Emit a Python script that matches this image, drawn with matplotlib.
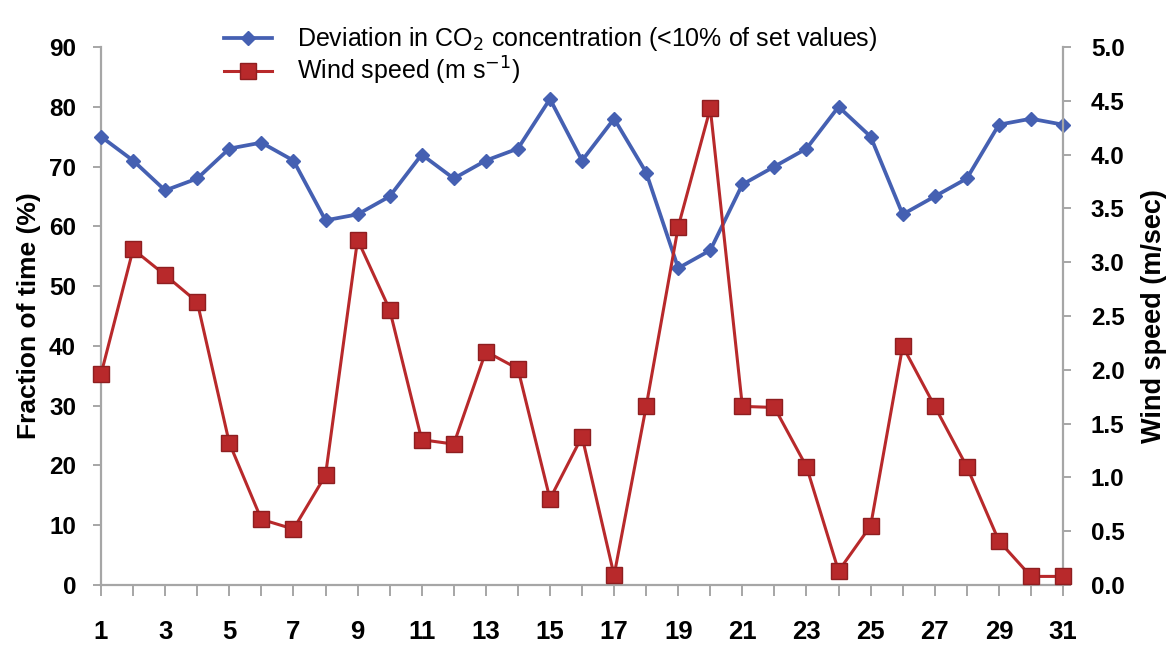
import matplotlib
matplotlib.use("Agg")
import matplotlib.pyplot as plt
from matplotlib.lines import Line2D

plt.rcParams["font.family"] = ["Liberation Sans", "DejaVu Sans"]

# Day of month
days = list(range(1, 32))

# Fraction of time (%) with CO2 deviation below 10% of set values
co2_fraction = [75, 71, 66, 68, 73, 74, 71, 61, 62, 65,
                72, 68, 71, 73, 81.3, 71, 78, 69, 53, 56,
                67, 70, 73, 80, 75, 62, 65, 68, 77, 78, 77]

# Daily mean wind speed (m/s)
wind_speed = [1.96, 3.12, 2.88, 2.63, 1.32, 0.61, 0.52, 1.02, 3.21, 2.56,
              1.35, 1.31, 2.17, 2.01, 0.80, 1.38, 0.09, 1.66, 3.33, 4.43,
              1.66, 1.65, 1.10, 0.13, 0.55, 2.22, 1.66, 1.10, 0.41, 0.08, 0.08]

left_ticks = [0, 10, 20, 30, 40, 50, 60, 70, 80, 90]
right_ticks = [0.0, 0.5, 1.0, 1.5, 2.0, 2.5, 3.0, 3.5, 4.0, 4.5, 5.0]
x_label_days = list(range(1, 32, 2))

blue = "#4560B2"
red = "#B8292B"
red_edge = "#8E1E20"
axis_gray = "#A6A6A6"

fig = plt.figure(figsize=(11.75, 6.56), dpi=100)
ax = fig.add_axes([0.0860, 0.1082, 0.8187, 0.8202])
ax2 = ax.twinx()

ax.plot(days, co2_fraction, color=blue, lw=2.7, marker="D", ms=7,
        mfc=blue, mec=blue, clip_on=False, zorder=3)
ax2.plot(days, wind_speed, color=red, lw=2.2, marker="s", ms=11.5,
         mfc=red, mec=red_edge, mew=1.0, clip_on=False, zorder=3)

ax.set_xlim(1, 31)
ax.set_ylim(0, 90)
ax2.set_ylim(0, 5.0)

ax.set_xticks(days)
ax.set_xticklabels([str(d) if d in x_label_days else "" for d in days])
ax.set_yticks(left_ticks)
ax.set_yticklabels([str(v) for v in left_ticks])
ax2.set_yticks(right_ticks)
ax2.set_yticklabels([f"{v:.1f}" for v in right_ticks])

for a in (ax, ax2):
    a.spines["top"].set_visible(False)
    for s in ("left", "right", "bottom"):
        a.spines[s].set_color(axis_gray)
        a.spines[s].set_linewidth(1.6)
    a.set_facecolor("none")

ax.spines["right"].set_visible(False)
ax2.spines["left"].set_visible(False)
ax2.spines["bottom"].set_visible(False)

ax.tick_params(axis="y", direction="out", length=6, width=1.4, color=axis_gray,
               labelsize=17.5, pad=12)
ax.tick_params(axis="x", direction="out", length=8, width=1.4, color=axis_gray,
               labelsize=18.5, pad=17)
ax2.tick_params(axis="y", direction="out", length=6, width=1.4, color=axis_gray,
                labelsize=17.5, pad=14)
for lbl in ax.get_xticklabels() + ax.get_yticklabels() + ax2.get_yticklabels():
    lbl.set_fontweight("bold")

ax.set_ylabel("Fraction of time (%)", fontsize=19, fontweight="bold", labelpad=6)
ax2.set_ylabel("Wind speed (m/sec)", fontsize=19.5, fontweight="bold", labelpad=12)

handles = [
    Line2D([], [], color=blue, lw=2.7, marker="D", ms=7, mfc=blue, mec=blue),
    Line2D([], [], color=red, lw=2.2, marker="s", ms=11.5, mfc=red, mec=red_edge),
]
labels = [
    "Deviation in CO$_2$ concentration (<10% of set values)",
    "Wind speed (m s$^{-1}$)",
]
fig.legend(handles, labels, loc="upper left", bbox_to_anchor=(0.176, 0.988),
           frameon=False, fontsize=18, handlelength=1.9, handletextpad=1.0,
           labelspacing=0.05, borderaxespad=0.3)

fig.savefig("out.png", dpi=100, facecolor="white")
